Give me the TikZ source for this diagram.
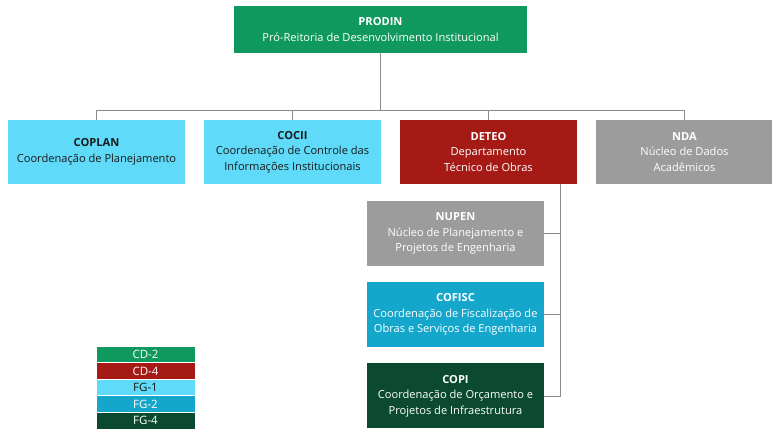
\documentclass[tikz,border=0pt]{standalone}
\usepackage{fontspec}
\setmainfont{Open Sans}
\definecolor{cdtwo}{HTML}{10995E}
\definecolor{cdfour}{HTML}{A51A15}
\definecolor{fgone}{HTML}{5FDAF8}
\definecolor{fgtwo}{HTML}{14A6CB}
\definecolor{fgfour}{HTML}{0B4A31}
\definecolor{grayb}{HTML}{9C9C9C}
\definecolor{linec}{HTML}{8C8C8C}
\definecolor{darktext}{HTML}{1A1A1A}
\begin{document}
\begin{tikzpicture}[x=1pt,y=-1pt,
  box/.style={rectangle, minimum width=177pt, minimum height=64pt, inner sep=2pt, align=center,
    font=\fontsize{11.1}{15.5}\selectfont, text=white},
  conn/.style={draw=linec, line width=0.8pt},
  leg/.style={rectangle, draw=white, line width=0.6pt, minimum width=99pt, minimum height=16.6pt, inner sep=0pt, font=\fontsize{11.5}{12}\selectfont, text=white}]
\useasboundingbox (0,0) rectangle (772,438);
\node[box, fill=cdtwo, minimum width=293pt, minimum height=47pt] (prodin) at (380.5,29.5) {\textbf{PRODIN}\\Pró-Reitoria de Desenvolvimento Institucional};
\node[box, fill=fgone, text=darktext] (coplan) at (96.5,152) {\textbf{COPLAN}\\Coordenação de Planejamento};
\node[box, fill=fgone, text=darktext] (cocii) at (292.5,152) {\textbf{COCII}\\Coordenação de Controle das\\Informações Institucionais};
\node[box, fill=cdfour] (deteo) at (488.5,152) {\textbf{DETEO}\\Departamento\\Técnico de Obras};
\node[box, fill=grayb] (nda) at (684.5,152) {\textbf{NDA}\\Núcleo de Dados\\Acadêmicos};
\node[box, fill=grayb, minimum height=65pt] (nupen) at (455.5,233.5) {\textbf{NUPEN}\\Núcleo de Planejamento e\\Projetos de Engenharia};
\node[box, fill=fgtwo, minimum height=65pt] (cofisc) at (455.5,314.5) {\textbf{COFISC}\\Coordenação de Fiscalização de\\Obras e Serviços de Engenharia};
\node[box, fill=fgfour, minimum height=65pt] (copi) at (455.5,396) {\textbf{COPI}\\Coordenação de Orçamento e\\Projetos de Infraestrutura};
\coordinate (bus) at (380.5,110);
\coordinate (sp) at (560,184);
\draw[conn] (prodin.south) -- (bus);
\draw[conn] (coplan.north) |- (bus);
\draw[conn] (cocii.north) |- (bus);
\draw[conn] (deteo.north) |- (bus);
\draw[conn] (nda.north) |- (bus);
\draw[conn] (sp) |- (copi.east);
\draw[conn] (nupen.east) -- (nupen.east -| sp);
\draw[conn] (cofisc.east) -- (cofisc.east -| sp);
\node[leg, fill=cdtwo] (l1) at (145.5,354.3) {CD-2};
\node[leg, fill=cdfour] (l2) at (145.5,370.9) {CD-4};
\node[leg, fill=fgone, text=darktext] (l3) at (145.5,387.5) {FG-1};
\node[leg, fill=fgtwo] (l4) at (145.5,404.1) {FG-2};
\node[leg, fill=fgfour] (l5) at (145.5,420.7) {FG-4};
\end{tikzpicture}
\end{document}
